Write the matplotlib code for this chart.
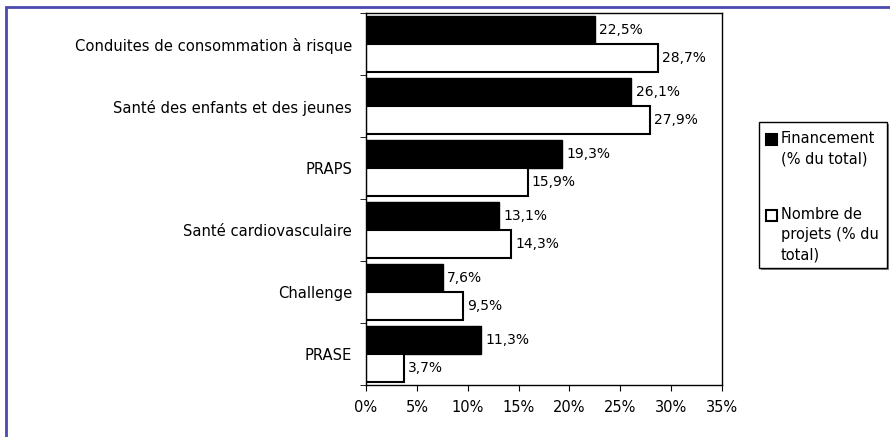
import matplotlib.pyplot as plt
from matplotlib.patches import Rectangle

# Data
categories = ["Conduites de consommation à risque", "Santé des enfants et des jeunes",
              "PRAPS", "Santé cardiovasculaire", "Challenge", "PRASE"]
financement = [22.5, 26.1, 19.3, 13.1, 7.6, 11.3]
projets = [28.7, 27.9, 15.9, 14.3, 9.5, 3.7]
xticks = [0, 5, 10, 15, 20, 25, 30, 35]
legend_labels = ["Financement\n(% du total)", "Nombre de\nprojets (% du\ntotal)"]

plt.rcParams["font.family"] = "DejaVu Sans"

W, H = 890, 437
fig = plt.figure(figsize=(W / 100, H / 100), dpi=100)
ax = fig.add_axes([366 / W, 1 - 385 / H, 356 / W, 372 / H])


def fx(px):
    return px / W


def fy(py):
    return 1 - py / H


# outer blue frame (top and left visible)
fig.patches.append(Rectangle((fx(6), -0.1), 1.2, fy(7) + 0.1, transform=fig.transFigure,
                             fill=False, edgecolor="#4a4ab0", linewidth=2, zorder=0))

h = 0.445
for i, (f, p) in enumerate(zip(financement, projets)):
    ax.barh(i - h / 2 - 0.005, f, height=h, color="black", edgecolor="black", linewidth=1)
    ax.barh(i + h / 2 + 0.005, p, height=h, color="white", edgecolor="black", linewidth=1.5)
    ax.text(f + 0.4, i - h / 2 - 0.005, f"{f:.1f}%".replace(".", ","), va="center", ha="left", fontsize=10)
    ax.text(p + 0.4, i + h / 2 + 0.005, f"{p:.1f}%".replace(".", ","), va="center", ha="left", fontsize=10)

ax.set_xlim(0, 35)
ax.set_ylim(5.5, -0.5)
ax.set_xticks(xticks)
ax.set_xticklabels([f"{t}%" for t in xticks], fontsize=10.5)
ax.set_yticks(range(len(categories)))
ax.set_yticklabels(categories, fontsize=10.6)
ax.tick_params(axis="y", length=0, pad=10)
ax.set_yticks([i + 0.5 for i in range(-1, len(categories))], minor=True)
ax.tick_params(axis="y", which="minor", length=4, direction="out")
ax.tick_params(axis="x", length=4, direction="out", pad=7)
for s in ax.spines.values():
    s.set_linewidth(1)

# legend drawn by hand: square aligned with the first line of each entry
lx0, lx1, ly0, ly1 = 759, 887, 122, 268
fig.patches.append(Rectangle((fx(lx0 + 2), fy(ly1 + 2)), fx(lx1 - lx0), fy(ly0) - fy(ly1),
                             transform=fig.transFigure, facecolor="#888888", edgecolor="none", zorder=2))
fig.patches.append(Rectangle((fx(lx0), fy(ly1)), fx(lx1 - lx0), fy(ly0) - fy(ly1),
                             transform=fig.transFigure, facecolor="white", edgecolor="black",
                             linewidth=1, zorder=3))
entry_tops = [139, 215]
styles = [dict(facecolor="black", edgecolor="black"), dict(facecolor="white", edgecolor="black")]
for top, lab, st in zip(entry_tops, legend_labels, styles):
    fig.patches.append(Rectangle((fx(766), fy(top + 6)), fx(11), fy(top - 5) - fy(top + 6),
                                 transform=fig.transFigure, linewidth=1.5, zorder=4, **st))
    fig.text(fx(781), fy(top - 8), lab, ha="left", va="top", fontsize=10.5,
             linespacing=1.45, zorder=5)

fig.savefig("out.png", dpi=100)
